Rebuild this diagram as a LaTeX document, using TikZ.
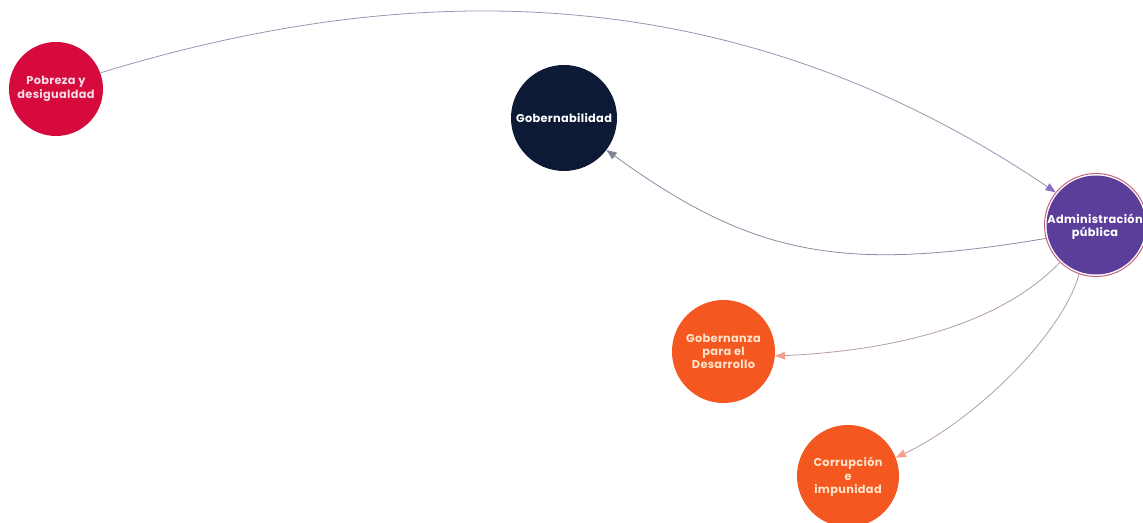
\documentclass[tikz,border=0pt]{standalone}
\usepackage{fontspec}
\usetikzlibrary{arrows.meta}
\newfontfamily\bubfont{Poppins}[LetterSpace=3]
\definecolor{cpob}{HTML}{D60A3C}
\definecolor{cgob}{HTML}{0C1A36}
\definecolor{cadm}{HTML}{5A3E9A}
\definecolor{cring}{HTML}{C25A78}
\definecolor{corg}{HTML}{F4571F}
\definecolor{tpob}{HTML}{F6DCE2}
\definecolor{torg}{HTML}{FFE4CC}
\definecolor{lone}{HTML}{9D93B5}
\definecolor{aone}{HTML}{8B6FC4}
\definecolor{ltwo}{HTML}{8A8DA5}
\definecolor{atwo}{HTML}{7C8494}
\definecolor{lthree}{HTML}{B59AB2}
\definecolor{athree}{HTML}{F2A08E}
\tikzset{
  bubble/.style={circle, inner sep=0pt, align=center,
    font=\bubfont\bfseries\fontsize{8.5}{10}\selectfont},
  link/.style={line width=0.6pt},
  tip/.style={-{Triangle[length=7.5pt,width=6pt,color=#1]}}
}
\begin{document}
\begin{tikzpicture}[x=0.75pt,y=-0.75pt]
\useasboundingbox[fill=white] (0,0) rectangle (1143,523);
\node[bubble, minimum size=70.5pt, fill=cpob, text=tpob] (pob) at (56,89) {Pobreza y\\desigualdad};
\node[bubble, minimum size=79.5pt, fill=cgob, text=white] (gob) at (564,118) {Gobernabilidad};
\node[bubble, minimum size=77.25pt, fill=white, draw=cring, line width=0.7pt] (adm) at (1096,225) {};
\node[bubble, minimum size=74.25pt, fill=cadm, text=white] (admin) at (1096,225) {};
\node[bubble, text=white] (admt) at (1095,227) {Administración\\pública};
\node[bubble, minimum size=77.25pt, fill=corg, text=torg] (gza) at (723.5,351.5) {Gobernanza\\para el\\Desarrollo};
\node[bubble, minimum size=76.5pt, fill=corg, text=torg] (cor) at (848,476) {};
\node[bubble, text=torg] (cort) at (848,477) {Corrupción\\e\\impunidad};
\draw[link, draw=lone, tip=aone] (pob.20) .. controls (410,-22) and (734,-25) .. (adm.141);
\draw[link, draw=ltwo, tip=atwo] (adm.195) .. controls (845,272) and (755,258) .. (gob.-37);
\draw[link, draw=lthree, tip=athree] (adm.226) .. controls (990,335) and (865,352) .. (gza.-5);
\draw[link, draw=lthree, tip=athree] (adm.251) .. controls (1062,335) and (975,420) .. (cor.21);
\end{tikzpicture}
\end{document}
